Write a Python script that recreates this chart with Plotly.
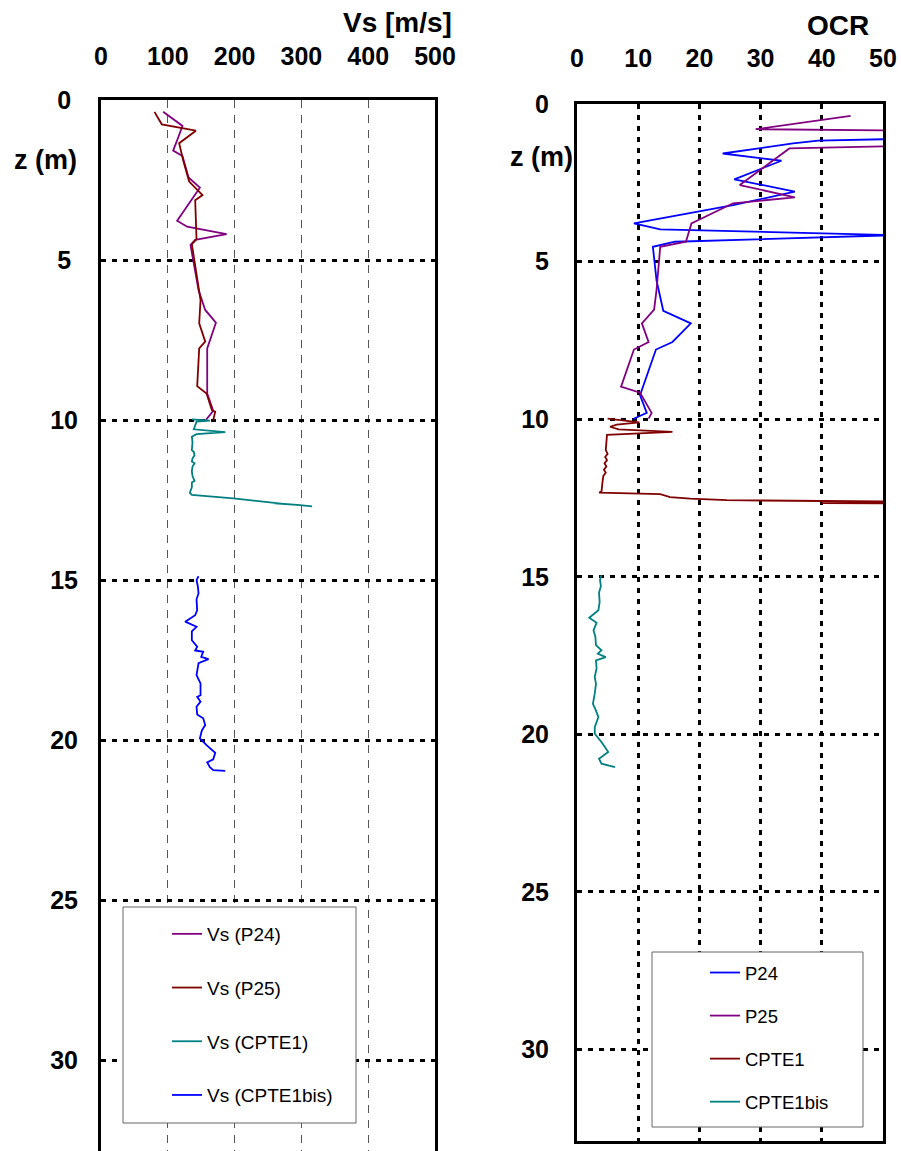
import plotly.graph_objects as go

# ---------------- data ----------------
# Left panel: Vs [m/s] vs depth z (m)
z_vs_p24 = [0.37, 0.81, 1.15, 1.58, 1.75, 2.42, 2.74, 3.77, 3.96, 4.19, 4.37, 4.53, 5.94, 6.56, 6.96, 7.76, 9.17, 9.71, 10.0]
vs_p24 = [93, 122, 116, 108, 122, 131, 148, 114, 129, 188, 141, 134, 146, 156, 172, 159, 159, 168, 157]

z_vs_p25 = [0.37, 0.76, 0.96, 1.35, 1.88, 2.55, 2.97, 3.13, 4.35, 4.5, 6.25, 6.98, 7.55, 7.76, 8.94, 9.17, 9.69, 9.74, 10.0]
vs_p25 = [80, 91, 142, 117, 123, 132, 152, 141, 143, 136, 149, 147, 156, 147, 144, 158, 166, 171, 168]

z_vs_cpte1 = [9.98, 10.02, 10.05, 10.15, 10.29, 10.38, 10.44, 10.52, 10.7, 10.94, 11.0, 11.1, 11.2, 11.3, 11.35,
              11.45, 11.6, 11.75, 11.9, 11.95, 12.1, 12.27, 12.34, 12.45, 12.5, 12.55, 12.6, 12.62, 12.6, 12.66, 12.7]
vs_cpte1 = [136, 163, 143, 141, 139, 186, 143, 136, 137, 136, 139, 140, 137, 136, 140,
            137, 136, 137, 140, 136, 136, 133, 136, 198, 218, 238, 258, 273, 260, 298, 316]

z_vs_cpte1bis = [14.88, 15.0, 15.2, 15.42, 15.6, 15.94, 16.1, 16.3, 16.46, 16.6, 16.88, 17.08, 17.2, 17.24, 17.4,
                 17.47, 17.6, 17.97, 18.23, 18.6, 18.65, 18.8, 18.96, 19.2, 19.32, 19.53, 19.7, 19.95, 20.16,
                 20.4, 20.6, 20.7, 20.85, 20.94, 20.96]
vs_cpte1bis = [146, 143, 145, 146, 143, 144, 141, 126, 143, 136, 136, 144, 141, 153, 150,
               161, 146, 143, 149, 149, 144, 149, 143, 144, 153, 156, 151, 148, 158,
               171, 168, 159, 163, 168, 186]

# Right panel: OCR vs depth z (m)
z_ocr_p24 = [1.08, 1.16, 1.25, 1.57, 1.8, 2.39, 2.78, 3.21, 3.79, 3.98, 4.16, 4.37, 4.53, 5.6, 6.56, 6.96,
             7.55, 7.79, 9.24, 9.8, 10.0]
ocr_p24 = [60, 39.4, 35.3, 23.8, 33.4, 25.7, 35.6, 25.5, 9.3, 13.6, 52, 16.0, 12.4, 13.0, 14.1, 18.6,
           15.6, 12.9, 10.3, 11.4, 9.1]

z_ocr_p25 = [0.38, 0.80, 0.85, 1.30, 1.41, 2.10, 2.57, 2.96, 3.15, 3.79, 4.37, 4.53, 5.9, 6.52, 6.96, 7.55,
             7.79, 8.97, 9.16, 9.8, 9.98]
ocr_p25 = [44.7, 29.2, 60, 60, 34.7, 29.9, 26.6, 35.6, 25.5, 18.7, 17.8, 13.6, 13.0, 12.6, 10.6, 11.7,
           9.3, 7.2, 10.3, 12.2, 11.7]

z_ocr_cpte1 = [9.98, 10.1, 10.17, 10.24, 10.32, 10.40, 10.5, 10.7, 10.98, 11.1, 11.2, 11.3, 11.4, 11.5, 11.6,
               11.7, 11.8, 11.94, 12.1, 12.3, 12.33, 12.38, 12.47, 12.52, 12.57, 12.6, 12.62, 12.66, 12.68]
ocr_cpte1 = [5.0, 10.2, 6.5, 5.4, 6.8, 15.6, 4.9, 4.8, 4.7, 5.0, 4.6, 4.9, 4.5, 4.8, 4.4,
             4.7, 4.3, 4.2, 4.1, 4.0, 3.6, 13.6, 15.2, 18.5, 24.5, 39.7, 55, 40, 55]

z_ocr_cpte1bis = [14.95, 15.1, 15.3, 15.5, 15.8, 16.06, 16.3, 16.46, 16.7, 16.9, 17.17, 17.33, 17.44, 17.55,
                  17.65, 17.9, 18.18, 18.4, 18.7, 19.03, 19.2, 19.45, 19.77, 19.98, 20.24, 20.56, 20.77,
                  20.93, 21.04]
ocr_cpte1bis = [4.0, 3.76, 3.9, 3.6, 3.7, 3.5, 2.0, 3.2, 2.7, 3.0, 3.1, 4.0, 3.4, 4.7,
                3.1, 3.2, 2.9, 3.1, 2.9, 2.6, 3.0, 3.5, 2.9, 2.9, 4.0, 5.1, 3.6,
                4.0, 6.2]

vs_ticks = [0, 100, 200, 300, 400, 500]
ocr_ticks = [0, 10, 20, 30, 40, 50]
z_ticks = [0, 5, 10, 15, 20, 25, 30]
# left depth labels are centred in their column (single digits padded)
z_ticktext_left = ["0\u2008", "5\u2008", "10", "15", "20", "25", "30"]

PURPLE = "#800080"
MAROON = "#800000"
TEAL = "#008080"
BLUE = "#0000FF"

W, H = 901, 1151
FONT = "Liberation Sans, Arial, sans-serif"


def fx(px):
    return px / W


def fy(py):
    return 1 - py / H


fig = go.Figure()

left_series = [
    ("Vs (P24)", z_vs_p24, vs_p24, PURPLE),
    ("Vs (P25)", z_vs_p25, vs_p25, MAROON),
    ("Vs (CPTE1)", z_vs_cpte1, vs_cpte1, TEAL),
    ("Vs (CPTE1bis)", z_vs_cpte1bis, vs_cpte1bis, BLUE),
]
for i, (name, z, v, c) in enumerate(left_series):
    fig.add_trace(go.Scatter(x=v, y=z, mode="lines", name=name, line=dict(color=c, width=1.8),
                             xaxis="x", yaxis="y", legend="legend", legendgroup="L%d" % i))

right_series = [
    ("P24", z_ocr_p24, ocr_p24, BLUE),
    ("P25", z_ocr_p25, ocr_p25, PURPLE),
    ("CPTE1", z_ocr_cpte1, ocr_cpte1, MAROON),
    ("CPTE1bis", z_ocr_cpte1bis, ocr_cpte1bis, TEAL),
]
for i, (name, z, v, c) in enumerate(right_series):
    fig.add_trace(go.Scatter(x=v, y=z, mode="lines", name=name, line=dict(color=c, width=1.8),
                             xaxis="x2", yaxis="y2", legend="legend2", legendgroup="R%d" % i))

tickfont = dict(family=FONT, size=25, color="black", weight="bold")
common = dict(automargin=False, ticks="", tickfont=tickfont, showline=True, linecolor="black",
              linewidth=3, zeroline=False, showgrid=True)

fig.update_layout(
    template="none",
    width=W, height=H,
    margin=dict(l=0, r=0, t=0, b=0, pad=0, autoexpand=False),
    font=dict(family=FONT, color="black"),
    paper_bgcolor="white", plot_bgcolor="white",
    showlegend=True,
    xaxis=dict(domain=[fx(101), fx(435)], range=[0, 500], side="top", anchor="y",
               tickvals=vs_ticks, ticklabelstandoff=22,
               gridcolor="#555555", gridwidth=1, griddash="8px,7px", mirror=False, **common),
    yaxis=dict(domain=[0, fy(100)], range=[32.84, 0], anchor="x",
               tickvals=z_ticks, ticktext=z_ticktext_left, ticklabelstandoff=15,
               gridcolor="black", gridwidth=3, griddash="5px,6px", mirror=True, **common),
    xaxis2=dict(domain=[fx(577), fx(883)], range=[0, 50], side="top", anchor="y2",
                tickvals=ocr_ticks, ticklabelstandoff=24,
                gridcolor="black", gridwidth=3, griddash="5px,6px", mirror=True, **common),
    yaxis2=dict(domain=[fy(1141), fy(104)], range=[32.9, 0], anchor="x2",
                tickvals=z_ticks, ticklabelstandoff=20,
                gridcolor="black", gridwidth=3, griddash="5px,6px", mirror=True, **common),
    legend=dict(x=fx(167), y=fy(915), xanchor="left", yanchor="top",
                bgcolor="rgba(0,0,0,0)", borderwidth=0, traceorder="grouped", tracegroupgap=26,
                font=dict(family=FONT, size=19, color="black")),
    legend2=dict(x=fx(705), y=fy(954), xanchor="left", yanchor="top",
                 bgcolor="rgba(0,0,0,0)", borderwidth=0, traceorder="grouped", tracegroupgap=16,
                 font=dict(family=FONT, size=18.5, color="black")),
    shapes=[
        dict(type="rect", xref="paper", yref="paper", x0=fx(123), x1=fx(356), y0=fy(1123), y1=fy(907),
             line=dict(color="#666666", width=1), fillcolor="white", layer="above"),
        dict(type="rect", xref="paper", yref="paper", x0=fx(652), x1=fx(863), y0=fy(1127), y1=fy(952),
             line=dict(color="#666666", width=1), fillcolor="white", layer="above"),
    ],
    annotations=[
        dict(text="Vs [m/s]", x=fx(397), y=fy(22), xref="paper", yref="paper", showarrow=False,
             xanchor="center", yanchor="middle",
             font=dict(family=FONT, size=28, color="black", weight="bold")),
        dict(text="OCR", x=fx(838), y=fy(25), xref="paper", yref="paper", showarrow=False,
             xanchor="center", yanchor="middle",
             font=dict(family=FONT, size=28, color="black", weight="bold")),
        dict(text="z (m)", x=fx(45), y=fy(160), xref="paper", yref="paper", showarrow=False,
             xanchor="center", yanchor="middle",
             font=dict(family=FONT, size=27, color="black", weight="bold")),
        dict(text="z (m)", x=fx(541), y=fy(157), xref="paper", yref="paper", showarrow=False,
             xanchor="center", yanchor="middle",
             font=dict(family=FONT, size=27, color="black", weight="bold")),
    ],
)

fig.write_html("out.html",
               config={"displayModeBar": False},
               post_script="document.body.style.margin='0px';document.body.style.overflow='hidden';")
